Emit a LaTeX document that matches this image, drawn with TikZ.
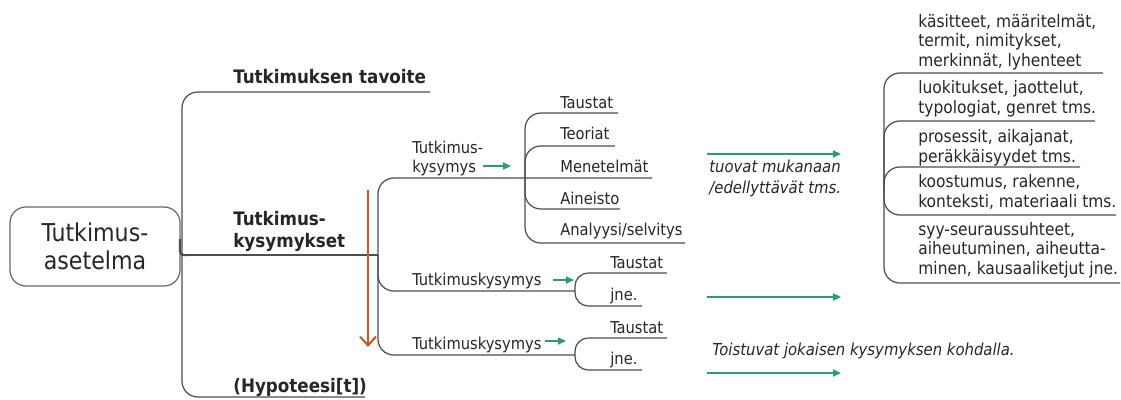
\documentclass[tikz,border=0pt]{standalone}
\usepackage{fontspec}
\setmainfont{DejaVu Sans Condensed}
\usetikzlibrary{arrows.meta}
\definecolor{linegray}{HTML}{4D4D4D}
\definecolor{textgray}{HTML}{262626}
\definecolor{mapgreen}{HTML}{2E9B6E}
\definecolor{maporange}{HTML}{C4582B}
\tikzset{
  branch/.style={draw=linegray, line width=0.7pt, rounded corners=9pt},
  lbl/.style={anchor=base west, inner sep=0pt, text=textgray, font=\fontsize{9.3}{10.8}\selectfont},
  toplbl/.style={lbl, font=\fontsize{10.6}{12.5}\selectfont\bfseries},
  note/.style={lbl, font=\fontsize{9.4}{11.5}\selectfont\itshape},
  lista/.style={lbl, align=left},
  laji/.style={lista, font=\fontsize{9.8}{10.9}\selectfont},
  gonext/.style={draw=mapgreen, line width=0.9pt, -{Triangle[length=4.5pt,width=4pt]}},
}
\begin{document}
\begin{tikzpicture}[x=0.02cm, y=-0.02cm]
  \useasboundingbox (0,0) rectangle (1121,399);

  \node[draw=linegray!85, line width=0.7pt, rounded corners=9pt, minimum width=3.4cm, minimum height=1.58cm,
    inner sep=0pt, align=center, text=textgray, font=\fontsize{14}{16}\selectfont] (asetelma) at (95, 246.5) {Tutkimus-\\asetelma};

  \coordinate (root) at (182, 255);
  \coordinate (kys) at (378, 255);
  \coordinate (tavoite-end) at (430, 92);
  \coordinate (hypo-end) at (365, 397);

  \draw[branch, line width=1.3pt, rounded corners=2pt] (180, 239) |- (root);
  \draw[branch] (root) |- (tavoite-end);
  \draw[branch] (root) |- (hypo-end);
  \draw[branch] (root) -- (kys);

  \node[toplbl] (tavoite) at (233, 83) {Tutkimuksen tavoite};
  \node[toplbl, align=left] (kysymykset) at (233, 247) {Tutkimus-\\kysymykset};
  \node[toplbl] (hypoteesi) at (233, 392) {(Hypoteesi[t])};

  \coordinate (kys1-fork) at (525, 178);
  \coordinate (kys2-fork) at (575, 291);
  \coordinate (kys3-fork) at (575, 355);
  \coordinate (menetelmat-end) at (652, 178);

  \draw[branch] (kys) |- (menetelmat-end);
  \draw[branch] (kys) |- (kys2-fork);
  \draw[branch] (kys) |- (kys3-fork);

  \coordinate (taustat1-end) at (618, 113);
  \coordinate (teoriat-end) at (615, 146);
  \coordinate (aineisto-end) at (620, 209);
  \coordinate (analyysi-end) at (685, 243);

  \draw[branch] (kys1-fork) |- (taustat1-end);
  \draw[branch] (kys1-fork) |- (teoriat-end);
  \draw[branch] (kys1-fork) |- (aineisto-end);
  \draw[branch] (kys1-fork) |- (analyysi-end);

  \node[lista] (kysymys1) at (412, 172) {Tutkimus-\\kysymys};
  \node[lbl] (taustat1) at (560, 108) {Taustat};
  \node[lbl] (teoriat) at (560, 139) {Teoriat};
  \node[lbl] (menetelmat) at (560, 172) {Menetelmät};
  \node[lbl] (aineisto) at (560, 204) {Aineisto};
  \node[lbl] (analyysi) at (560, 235) {Analyysi/selvitys};

  \coordinate (taustat2-end) at (667, 273);
  \coordinate (jne2-end) at (642, 306);
  \coordinate (taustat3-end) at (667, 338);
  \coordinate (jne3-end) at (642, 370);

  \draw[branch, rounded corners=7.5pt] (kys2-fork) |- (taustat2-end);
  \draw[branch, rounded corners=7.5pt] (kys2-fork) |- (jne2-end);
  \draw[branch, rounded corners=7.5pt] (kys3-fork) |- (taustat3-end);
  \draw[branch, rounded corners=7.5pt] (kys3-fork) |- (jne3-end);

  \node[lbl] (kysymys2) at (412, 285) {Tutkimuskysymys};
  \node[lbl] (taustat2) at (610, 268) {Taustat};
  \node[lbl] (jne2) at (610, 300) {jne.};
  \node[lbl] (kysymys3) at (412, 349) {Tutkimuskysymys};
  \node[lbl] (taustat3) at (610, 333) {Taustat};
  \node[lbl] (jne3) at (610, 364) {jne.};

  \coordinate (nuoli1-a) at (483, 166);
  \coordinate (nuoli1-b) at (511, 166);
  \coordinate (nuoli2-a) at (553, 280);
  \coordinate (nuoli2-b) at (574, 280);
  \coordinate (nuoli3-a) at (545, 341);
  \coordinate (nuoli3-b) at (566, 341);
  \draw[gonext] (nuoli1-a) -- (nuoli1-b);
  \draw[gonext] (nuoli2-a) -- (nuoli2-b);
  \draw[gonext] (nuoli3-a) -- (nuoli3-b);

  \coordinate (jarjestys-a) at (368, 190);
  \coordinate (jarjestys-b) at (368, 347);
  \draw[draw=maporange, line width=1.2pt, -{Straight Barb[length=5pt,width=9pt]}] (jarjestys-a) -- (jarjestys-b);

  \coordinate (pitka1-a) at (707, 154);
  \coordinate (pitka1-b) at (841, 154);
  \coordinate (pitka2-a) at (707, 297);
  \coordinate (pitka2-b) at (841, 297);
  \coordinate (pitka3-a) at (707, 373);
  \coordinate (pitka3-b) at (841, 373);
  \draw[gonext] (pitka1-a) -- (pitka1-b);
  \draw[gonext] (pitka2-a) -- (pitka2-b);
  \draw[gonext] (pitka3-a) -- (pitka3-b);

  \node[note, align=left] (tuovat) at (709, 193) {tuovat mukanaan\\/edellyttävät tms.};
  \node[note] (toistuvat) at (712, 355) {Toistuvat jokaisen kysymyksen kohdalla.};

  \coordinate (luonne) at (884, 190);
  \coordinate (kasitteet-end) at (1103, 73);
  \coordinate (luokitukset-end) at (1095, 121);
  \coordinate (prosessit-end) at (1080, 167);
  \coordinate (koostumus-end) at (1116, 215);
  \coordinate (syy-end) at (1120, 283);

  \draw[branch] (luonne) |- (kasitteet-end);
  \draw[branch] (luonne) |- (luokitukset-end);
  \draw[branch] (luonne) |- (prosessit-end);
  \draw[branch] (luonne) |- (koostumus-end);
  \draw[branch] (luonne) |- (syy-end);

  \node[laji] (kasitteet) at (918, 66) {käsitteet, määritelmät,\\termit, nimitykset,\\merkinnät, lyhenteet};
  \node[laji] (luokitukset) at (918, 113) {luokitukset, jaottelut,\\typologiat, genret tms.};
  \node[laji] (prosessit) at (918, 162) {prosessit, aikajanat,\\peräkkäisyydet tms.};
  \node[laji] (koostumus) at (918, 207) {koostumus, rakenne,\\konteksti, materiaali tms.};
  \node[laji] (syy) at (918, 274) {syy-seuraussuhteet,\\aiheutuminen, aiheutta-\\minen, kausaaliketjut jne.};
\end{tikzpicture}
\end{document}
